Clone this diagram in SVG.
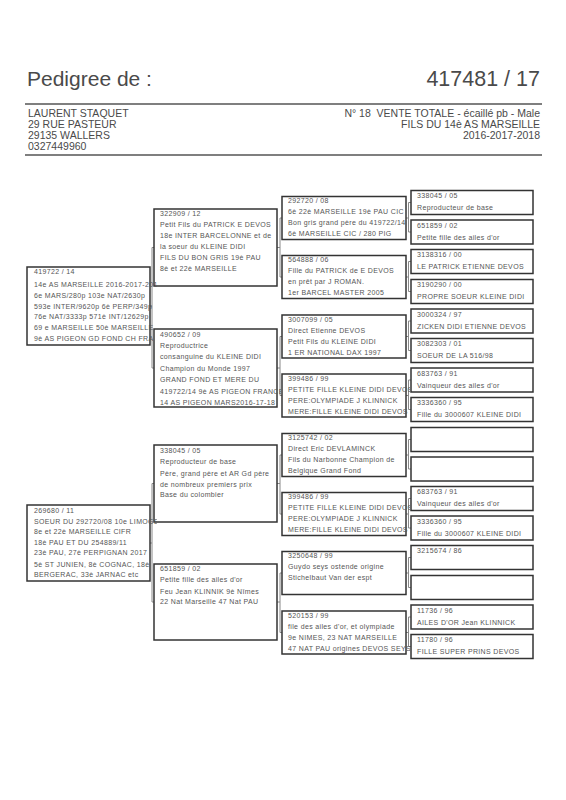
<svg xmlns="http://www.w3.org/2000/svg" width="566" height="800" viewBox="0 0 566 800">
<style>
.h{font-family:"Liberation Sans",Arial,sans-serif;fill:#4a4a4a}
.b{fill:#fff;stroke:#333;stroke-width:1.5}
.t{font-family:"Liberation Sans",Arial,sans-serif;font-size:7px;letter-spacing:0.35px;fill:#555}
.c{fill:none;stroke:#888;stroke-width:1}
.r{stroke:#555;stroke-width:1.5}
</style>
<defs>
<clipPath id="k1"><rect x="27" y="0" width="130" height="800"/></clipPath>
<clipPath id="k2"><rect x="154" y="0" width="127" height="800"/></clipPath>
<clipPath id="k3"><rect x="282" y="0" width="128" height="800"/></clipPath>
<clipPath id="k4"><rect x="410" y="0" width="127" height="800"/></clipPath>
</defs>
<rect width="566" height="800" fill="#fff"/>
<g id="header">
<text class="h" x="27" y="86" font-size="21">Pedigree de :</text>
<text class="h" x="540" y="86" font-size="21.5" text-anchor="end">417481 / 17</text>
<line class="r" x1="25" y1="104" x2="542" y2="104"/>
<text class="h" x="28" y="117" font-size="10.5">LAURENT STAQUET</text>
<text class="h" x="28" y="128" font-size="10.5">29 RUE PASTEUR</text>
<text class="h" x="28" y="139" font-size="10.5">29135 WALLERS</text>
<text class="h" x="28" y="150" font-size="10.5">0327449960</text>
<text class="h" x="540" y="117" font-size="10.5" text-anchor="end">N° 18&#160; VENTE TOTALE - écaillé pb - Male</text>
<text class="h" x="540" y="128" font-size="10.5" text-anchor="end">FILS DU 14è AS MARSEILLE</text>
<text class="h" x="540" y="139" font-size="10.5" text-anchor="end">2016-2017-2018</text>
<line class="r" x1="25" y1="155" x2="542" y2="155"/>
</g>
<g id="connectors" class="c">
<path d="M150,306H152M154,247.5H152V368H154"/>
<path d="M150,543H152M154,483.5H152V602H154"/>
<path d="M277,247.5H280M282,218H280V277H282"/>
<path d="M277,368H280M282,336.5H280V395.5H282"/>
<path d="M277,483.5H280M282,455H280V514H282"/>
<path d="M277,602H280M282,573H280V632.5H282"/>
<path d="M406,218H408.5M411,202.5H408.5V232H411"/>
<path d="M406,277H408.5M411,261.5H408.5V291.5H411"/>
<path d="M406,336.5H408.5M411,321H408.5V350.5H411"/>
<path d="M406,395.5H408.5M411,380H408.5V409.5H411"/>
<path d="M406,455H408.5M411,439.5H408.5V469H411"/>
<path d="M406,514H408.5M411,498.5H408.5V528H411"/>
<path d="M406,573H408.5M411,557.5H408.5V587.5H411"/>
<path d="M406,632.5H408.5M411,617H408.5V646.5H411"/>
</g>
<g id="n4-1"><rect class="b" x="411" y="190.5" width="122" height="24"/><g class="t" clip-path="url(#k4)"><text x="417" y="198">338045 / 05</text><text x="417" y="210">Reproducteur de base</text></g></g>
<g id="n4-2"><rect class="b" x="411" y="220" width="122" height="24"/><g class="t" clip-path="url(#k4)"><text x="417" y="227.5">651859 / 02</text><text x="417" y="239.5">Petite fille des ailes d'or</text></g></g>
<g id="n4-3"><rect class="b" x="411" y="249.5" width="122" height="24"/><g class="t" clip-path="url(#k4)"><text x="417" y="257">3138316 / 00</text><text x="417" y="269">LE PATRICK ETIENNE DEVOS</text></g></g>
<g id="n4-4"><rect class="b" x="411" y="279.5" width="122" height="24"/><g class="t" clip-path="url(#k4)"><text x="417" y="287">3190290 / 00</text><text x="417" y="299">PROPRE SOEUR KLEINE DIDI</text></g></g>
<g id="n4-5"><rect class="b" x="411" y="309" width="122" height="24"/><g class="t" clip-path="url(#k4)"><text x="417" y="316.5">3000324 / 97</text><text x="417" y="328.5">ZICKEN DIDI ETIENNE DEVOS</text></g></g>
<g id="n4-6"><rect class="b" x="411" y="338.5" width="122" height="24"/><g class="t" clip-path="url(#k4)"><text x="417" y="346">3082303 / 01</text><text x="417" y="358">SOEUR DE LA 516/98</text></g></g>
<g id="n4-7"><rect class="b" x="411" y="368" width="122" height="24"/><g class="t" clip-path="url(#k4)"><text x="417" y="375.5">683763 / 91</text><text x="417" y="387.5">Vainqueur des ailes d'or</text></g></g>
<g id="n4-8"><rect class="b" x="411" y="397.5" width="122" height="24"/><g class="t" clip-path="url(#k4)"><text x="417" y="405">3336360 / 95</text><text x="417" y="417">Fille du 3000607 KLEINE DIDI</text></g></g>
<g id="n4-9"><rect class="b" x="411" y="427.5" width="122" height="24"/></g>
<g id="n4-10"><rect class="b" x="411" y="457" width="122" height="24"/></g>
<g id="n4-11"><rect class="b" x="411" y="486.5" width="122" height="24"/><g class="t" clip-path="url(#k4)"><text x="417" y="494">683763 / 91</text><text x="417" y="506">Vainqueur des ailes d'or</text></g></g>
<g id="n4-12"><rect class="b" x="411" y="516" width="122" height="24"/><g class="t" clip-path="url(#k4)"><text x="417" y="523.5">3336360 / 95</text><text x="417" y="535.5">Fille du 3000607 KLEINE DIDI</text></g></g>
<g id="n4-13"><rect class="b" x="411" y="545.5" width="122" height="24"/><g class="t" clip-path="url(#k4)"><text x="417" y="553">3215674 / 86</text></g></g>
<g id="n4-14"><rect class="b" x="411" y="575.5" width="122" height="24"/></g>
<g id="n4-15"><rect class="b" x="411" y="605" width="122" height="24"/><g class="t" clip-path="url(#k4)"><text x="417" y="612.5">11736 / 96</text><text x="417" y="624.5">AILES D'OR Jean KLINNICK</text></g></g>
<g id="n4-16"><rect class="b" x="411" y="634.5" width="122" height="24"/><g class="t" clip-path="url(#k4)"><text x="417" y="642">11780 / 96</text><text x="417" y="654">FILLE SUPER PRINS DEVOS</text></g></g>
<g id="n3-1"><rect class="b" x="282" y="196.5" width="124" height="43"/><g class="t" clip-path="url(#k3)"><text x="288" y="203">292720 / 08</text><text x="288" y="214">6è 22è MARSEILLE 19è PAU CIC</text><text x="288" y="225">Bon gris grand père du 419722/14</text><text x="288" y="236">6è MARSEILLE CIC / 280 PIG</text></g></g>
<g id="n3-2"><rect class="b" x="282" y="255.5" width="124" height="43"/><g class="t" clip-path="url(#k3)"><text x="288" y="262">564888 / 06</text><text x="288" y="273">Fille du PATRICK de E DEVOS</text><text x="288" y="284">en prêt par J ROMAN.</text><text x="288" y="295">1er BARCEL MASTER 2005</text></g></g>
<g id="n3-3"><rect class="b" x="282" y="315" width="124" height="43"/><g class="t" clip-path="url(#k3)"><text x="288" y="321.5">3007099 / 05</text><text x="288" y="332.5">Direct Etienne DEVOS</text><text x="288" y="343.5">Petit Fils du KLEINE DIDI</text><text x="288" y="354.5">1 ER NATIONAL DAX 1997</text></g></g>
<g id="n3-4"><rect class="b" x="282" y="374" width="124" height="43"/><g class="t" clip-path="url(#k3)"><text x="288" y="380.5">399486 / 99</text><text x="288" y="391.5">PETITE FILLE KLEINE DIDI DEVOS</text><text x="288" y="402.5">PERE:OLYMPIADE J KLINNICK</text><text x="288" y="413.5">MERE:FILLE KLEINE DIDI DEVOS</text></g></g>
<g id="n3-5"><rect class="b" x="282" y="433.5" width="124" height="43"/><g class="t" clip-path="url(#k3)"><text x="288" y="440">3125742 / 02</text><text x="288" y="451">Direct Eric DEVLAMINCK</text><text x="288" y="462">Fils du Narbonne Champion de</text><text x="288" y="473">Belgique Grand Fond</text></g></g>
<g id="n3-6"><rect class="b" x="282" y="492.5" width="124" height="43"/><g class="t" clip-path="url(#k3)"><text x="288" y="499">399486 / 99</text><text x="288" y="510">PETITE FILLE KLEINE DIDI DEVOS</text><text x="288" y="521">PERE:OLYMPIADE J KLINNICK</text><text x="288" y="532">MERE:FILLE KLEINE DIDI DEVOS</text></g></g>
<g id="n3-7"><rect class="b" x="282" y="551.5" width="124" height="43"/><g class="t" clip-path="url(#k3)"><text x="288" y="558">3250648 / 99</text><text x="288" y="569">Guydo seys ostende origine</text><text x="288" y="580">Stichelbaut Van der espt</text></g></g>
<g id="n3-8"><rect class="b" x="282" y="611" width="124" height="43"/><g class="t" clip-path="url(#k3)"><text x="288" y="617.5">520153 / 99</text><text x="288" y="628.5">file des ailes d'or, et olympiade</text><text x="288" y="639.5">9e NIMES, 23 NAT MARSEILLE</text><text x="288" y="650.5">47 NAT PAU origines DEVOS SEYS</text></g></g>
<g id="n2-1"><rect class="b" x="154" y="209" width="123" height="77"/><g class="t" clip-path="url(#k2)"><text x="160" y="216">322909 / 12</text><text x="160" y="227">Petit Fils du PATRICK E DEVOS</text><text x="160" y="238">18e INTER BARCELONNE et de</text><text x="160" y="249">la soeur du KLEINE DIDI</text><text x="160" y="260">FILS DU BON GRIS 19è PAU</text><text x="160" y="271">8è et 22è MARSEILLE</text></g></g>
<g id="n2-2"><rect class="b" x="154" y="329" width="123" height="78"/><g class="t" clip-path="url(#k2)"><text x="160" y="336.5">490652 / 09</text><text x="160" y="348">Reproductrice</text><text x="160" y="359.4">consanguine du KLEINE DIDI</text><text x="160" y="370.8">Champion du Monde 1997</text><text x="160" y="382.2">GRAND FOND ET MERE DU</text><text x="160" y="393.6">419722/14 9è AS PIGEON FRANCE</text><text x="160" y="405">14 AS PIGEON MARS2016-17-18</text></g></g>
<g id="n2-3"><rect class="b" x="154" y="445" width="123" height="77"/><g class="t" clip-path="url(#k2)"><text x="160" y="452.5">338045 / 05</text><text x="160" y="464">Reproducteur de base</text><text x="160" y="475.5">Père, grand père et AR Gd père</text><text x="160" y="486.5">de nombreux premiers prix</text><text x="160" y="497">Base du colombier</text></g></g>
<g id="n2-4"><rect class="b" x="154" y="564" width="123" height="76"/><g class="t" clip-path="url(#k2)"><text x="160" y="571">651859 / 02</text><text x="160" y="582">Petite fille des ailes d'or</text><text x="160" y="593.5">Feu Jean KLINNIK 9è Nîmes</text><text x="160" y="604">22 Nat Marseille 47 Nat PAU</text></g></g>
<g id="n1-1"><rect class="b" x="27" y="267" width="123" height="78"/><g class="t" clip-path="url(#k1)"><text x="34" y="274">419722 / 14</text><text x="34" y="286.5">14e AS MARSEILLE 2016-2017-2018</text><text x="34" y="297.5">6e MARS/280p 103e NAT/2630p</text><text x="34" y="308.5">593e INTER/9620p 6è PERP/349p</text><text x="34" y="319">76e NAT/3333p 571è INT/12629p</text><text x="34" y="329.5">69 e MARSEILLE 50è MARSEILLE</text><text x="34" y="340.5">9è AS PIGEON GD FOND CH FRA</text></g></g>
<g id="n1-2"><rect class="b" x="27" y="505" width="123" height="76"/><g class="t" clip-path="url(#k1)"><text x="34" y="512.5">269680 / 11</text><text x="34" y="524">SOEUR DU 292720/08 10e LIMOGES</text><text x="34" y="534">8e et 22è MARSEILLE CIFR</text><text x="34" y="544.5">18è PAU ET DU 254889/11</text><text x="34" y="555">23è PAU, 27è PERPIGNAN 2017</text><text x="34" y="566.5">5è ST JUNIEN, 8è COGNAC, 18è</text><text x="34" y="577">BERGERAC, 33è JARNAC etc</text></g></g>
</svg>
